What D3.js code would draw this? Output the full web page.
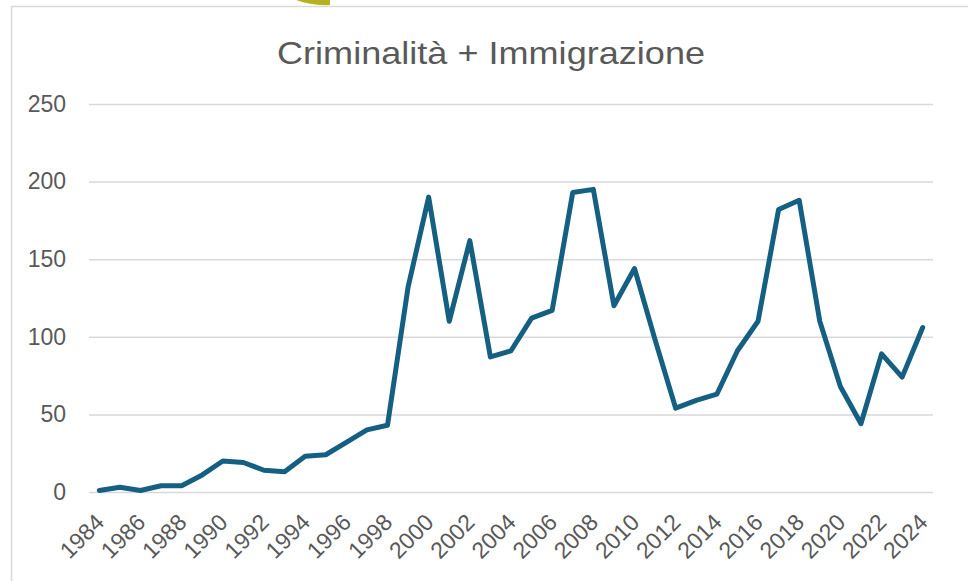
<!DOCTYPE html>
<html>
<head>
<meta charset="UTF-8">
<title>Criminalità + Immigrazione</title>
<script src="https://d3js.org/d3.v7.min.js"></script>
<style>
  body { margin: 0; background: #fff; }
  svg text { font-family: "Liberation Sans", Arial, sans-serif; fill: #595959; }
</style>
</head>
<body>
<div id="chart"></div>
<script>
// data
var years = d3.range(1984, 2025);
var values = [1, 3, 1, 4, 4, 11, 20, 19, 14, 13,
              23, 24, 32, 40, 43, 132, 190, 110, 162, 87,
              91, 112, 117, 193, 195, 120, 144, 98, 54, 59,
              63, 91, 110, 182, 188, 110, 68, 44, 89, 74, 106];
var yTicks = [0, 50, 100, 150, 200, 250];
var xLabels = years.filter(function(y){ return (y - 1984) % 2 == 0; });

var W = 968, H = 581;

var svg = d3.select("#chart").append("svg")
  .attr("width", W)
  .attr("height", H);

svg.append("rect").attr("width", W).attr("height", H).attr("fill", "#fff");

// bit of the shape peeking in at the top
svg.append("path")
  .attr("d", "M296,0 Q312,6 330,5 L330,0 Z")
  .attr("fill", "#b7b122");

// chart frame
svg.append("rect")
  .attr("x", 11.5).attr("y", 6.5)
  .attr("width", W).attr("height", H)
  .attr("fill", "#fff")
  .attr("stroke", "#d9d9d9")
  .attr("stroke-width", 1.5);

var margin = {top: 104, right: 35, bottom: 89, left: 89};
var width = 933 - margin.left,
    height = 492 - margin.top;

var g = svg.append("g")
  .attr("transform", "translate(" + margin.left + "," + margin.top + ")");

var xScale = d3.scalePoint()
  .domain(years)
  .range([0, width])
  .padding(0.5);

var yScale = d3.scaleLinear()
  .domain([0, 250])
  .range([height, 0]);

// gridlines + y labels
var yAxis = d3.axisLeft(yScale)
  .tickValues(yTicks)
  .tickSize(-width)
  .tickPadding(23);

g.append("g")
  .call(yAxis)
  .call(function(a){
    a.select(".domain").remove();
    a.selectAll("line").attr("stroke", "#d9d9d9").attr("stroke-width", 1.5);
    a.selectAll("text")
      .style("font-size", "23px")
      .attr("fill", "#595959");
  });

// x axis labels
var xAxis = d3.axisBottom(xScale)
  .tickValues(xLabels)
  .tickSize(0);

g.append("g")
  .attr("transform", "translate(0," + height + ")")
  .call(xAxis)
  .call(function(a){
    a.select(".domain").remove();
    a.selectAll("text")
      .style("font-size", "23px")
      .attr("fill", "#595959")
      .style("text-anchor", "end")
      .attr("dx", "0")
      .attr("dy", "0.35em")
      .attr("transform", "translate(-2,24) rotate(-45)");
  });

// line
var line = d3.line()
  .x(function(d, i){ return xScale(years[i]); })
  .y(function(d){ return yScale(d); });

g.append("path")
  .datum(values)
  .attr("fill", "none")
  .attr("stroke", "#156082")
  .attr("stroke-width", 5)
  .attr("stroke-linejoin", "round")
  .attr("stroke-linecap", "round")
  .attr("d", line);

// title
svg.append("text")
  .attr("x", 491)
  .attr("y", 64)
  .style("text-anchor", "middle")
  .style("font-size", "32px")
  .attr("textLength", 428)
  .attr("lengthAdjust", "spacingAndGlyphs")
  .text("Criminalità + Immigrazione");
</script>
</body>
</html>
